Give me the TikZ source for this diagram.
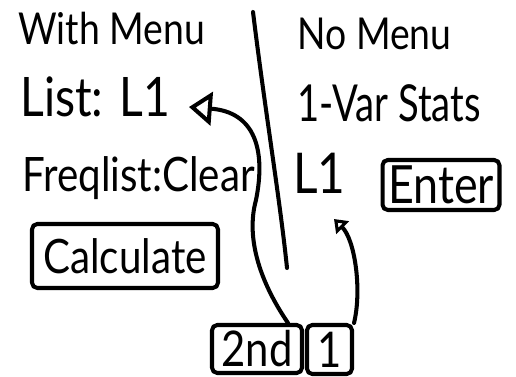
\documentclass[tikz,border=0pt]{standalone}
\usepackage{fontspec}
\setmainfont{Lato}
\newfontfamily\hand[FakeStretch=0.85]{Lato}
\newfontfamily\handnarrow[FakeStretch=0.75]{Lato}
\usetikzlibrary{arrows.meta}
\begin{document}
\begin{tikzpicture}[x=0.02cm,y=-0.02cm,
  ink/.style={line width=2.3pt, line cap=round, line join=round},
  sz/.style={font=\hand\fontsize{#1}{#1}\selectfont},
  word/.style={sz=27, inner sep=0pt, anchor=base west},
  keybox/.style={sz=27, draw, ink, rounded corners=3pt, inner sep=0pt},
  openhead/.style={-{Triangle[open,length=13pt,width=19pt,line width=2.3pt]}},
  smallhead/.style={-{Triangle[open,length=7pt,width=10pt,line width=2.3pt]}}]
\useasboundingbox[fill=white] (0,0) rectangle (516,377);

% left column: menu-driven entry
\node[word, sz=25] (withmenu) at (18,45) {With Menu};
\node[word, sz=31] (list) at (20,117) {List: L1};
\node[word, sz=27] (freq) at (22,192) {Freqlist:Clear};
\node[keybox, sz=27, minimum width=3.72cm, minimum height=1.28cm] (calc) at (125,256) {Calculate};

% right column: direct entry
\node[word, sz=25] (nomenu) at (297,50) {No Menu};
\node[word, font=\handnarrow\fontsize{29}{29}\selectfont] (varstats) at (297,122) {1-Var Stats};
\node[word, sz=32] (l1) at (293,194) {L1};
\node[keybox, sz=30, minimum width=2.34cm, minimum height=1.0cm] (enter) at (441,185) {Enter};

% key presses
\node[keybox, sz=28, minimum width=1.8cm, minimum height=0.96cm] (second) at (257,349) {2nd};
\node[keybox, sz=28, minimum width=0.9cm, minimum height=0.98cm] (one) at (329.5,349.5) {1};

% divider between the two columns
\coordinate (divtop) at (253,12);
\coordinate (divbot) at (287,268);
\draw[ink] (divtop) .. controls (265,110) and (280,200) .. (divbot);

% arrows from the keys to the list name
\coordinate (tipA) at (189,107);
\coordinate (tipB) at (334,219);
\draw[ink, openhead] ([xshift=31*0.02cm]second.north) .. controls (262,285) and (245,240) .. (256,200)
  .. controls (266,150) and (255,112) .. (tipA);
\draw[ink, smallhead] (one.north east) .. controls (362,290) and (355,240) .. (tipB);
\end{tikzpicture}
\end{document}
